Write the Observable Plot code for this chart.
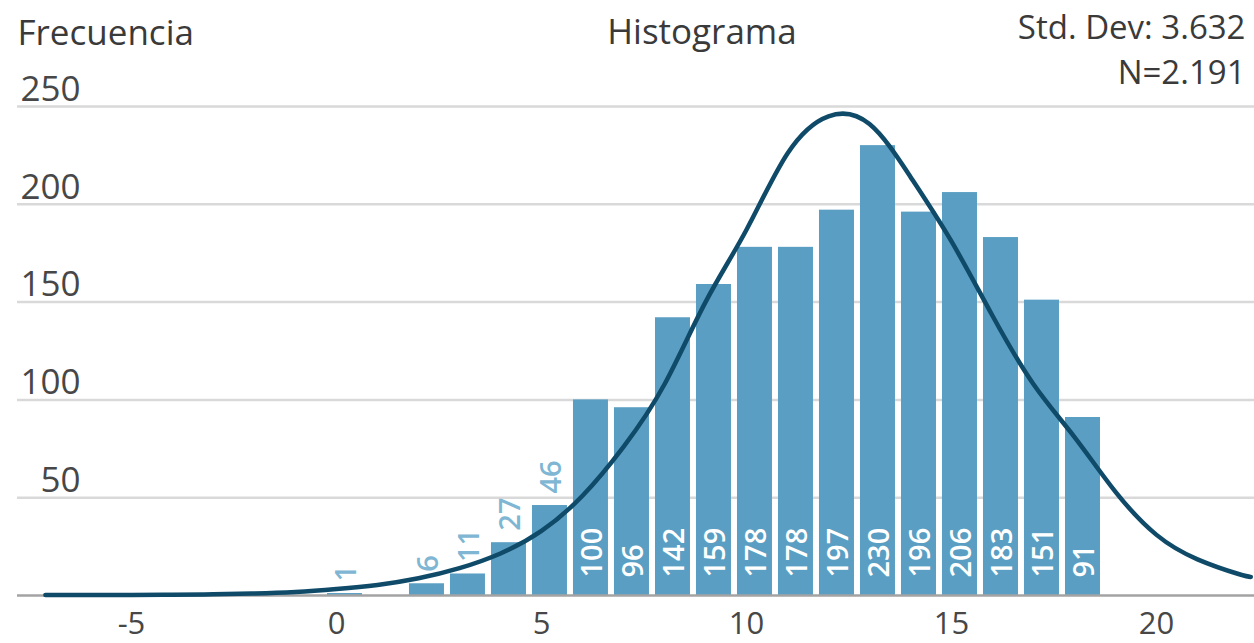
<!DOCTYPE html>
<html>
<head>
<meta charset="utf-8">
<script src="https://cdn.jsdelivr.net/npm/d3@7"></script>
<script src="https://cdn.jsdelivr.net/npm/@observablehq/plot@0.6"></script>
<style>
  body { margin: 0; background: #fff; }
  #chart svg { display: block; }
</style>
</head>
<body>
<div id="chart"></div>
<script>
// Histogram bins (bin start value) and frequencies
const binStarts = [0, 2, 3, 4, 5, 6, 7, 8, 9, 10, 11, 12, 13, 14, 15, 16, 17, 18];
const counts    = [1, 6, 11, 27, 46, 100, 96, 142, 159, 178, 178, 197, 230, 196, 206, 183, 151, 91];

// Fitted curve at whole x values
const curveX = [-7.1, -6, -5, -4, -3, -2, -1, 0, 1, 2, 3, 4, 5, 6, 7, 8, 9, 10, 11, 12, 13, 14, 15, 16, 17, 18, 19, 20, 21, 22, 22.3];
const curveY = [0.2, 0.2, 0.3, 0.4, 0.6, 1.0, 1.8, 3.3, 5.4, 8.8, 14, 21.5, 33, 51, 76, 108, 150, 187, 226, 245, 241, 214, 181, 143, 108, 81, 53, 31, 18.5, 11, 9.5];

// Axis ticks and labels
const yTicks = [50, 100, 150, 200, 250];
const xTicks = [-5, 0, 5, 10, 15, 20];
const xTickLabels = ["-5", "0", "5", "10", "15", "20"];

// Header texts
const yTitle = "Frecuencia";
const chartTitle = "Histograma";
const stdText = "Std. Dev: 3.632";
const nText = "N=2.191";

const bars = binStarts.map((b, i) => ({bin: b, count: counts[i]}));
const curve = curveX.map((x, i) => ({x, y: curveY[i]}));
const xT = xTicks.map((x, i) => ({x, label: xTickLabels[i]}));

const barColor = "#5a9fc3";
const lineColor = "#0f4a69";
const textColor = "#3a3a3a";
const font = "'Open Sans', 'Noto Sans', sans-serif";

const chart = Plot.plot({
  width: 1254,
  height: 643,
  marginLeft: 17,
  marginRight: 0,
  marginTop: 106,
  marginBottom: 48,
  style: {fontFamily: font, background: "#fff"},
  x: {domain: [-7.78, 22.39], axis: null},
  y: {domain: [0, 250], axis: null},
  marks: [
    Plot.ruleY(yTicks, {stroke: "#d9d9d9", strokeWidth: 2.5}),
    Plot.rectY(bars, {x1: d => d.bin - 0.22, x2: d => d.bin + 0.78, y: "count", fill: barColor, insetRight: 6}),
    Plot.ruleY([0], {stroke: "#a3a3a3", strokeWidth: 2.5}),
    // labels inside tall bars
    Plot.text(bars.filter(d => d.count >= 60), {
      x: d => d.bin + 0.28, y: 0, text: d => String(d.count), rotate: -90,
      textAnchor: "start", lineAnchor: "middle", dy: -18, dx: -1,
      fill: "#fff", fontSize: 29, fontWeight: 600
    }),
    // labels above short bars
    Plot.text(bars.filter(d => d.count < 60), {
      x: d => d.bin + 0.28, y: "count", text: d => String(d.count), rotate: -90,
      textAnchor: "start", lineAnchor: "middle", dy: -12, dx: -1,
      fill: "#7fb6d3", fontSize: 29, fontWeight: 600
    }),
    Plot.line(curve, {x: "x", y: "y", curve: "natural", stroke: lineColor, strokeWidth: 4.5}),
    // y tick labels
    Plot.text(yTicks, {
      y: d => d, text: d => String(d), frameAnchor: "left", textAnchor: "end",
      lineAnchor: "middle", dx: 63, dy: -17, fill: "#474747", fontSize: 35
    }),
    // x tick labels
    Plot.text(xT, {
      x: "x", text: "label", frameAnchor: "bottom", lineAnchor: "middle",
      dy: 29, fill: "#474747", fontSize: 31
    }),
    // header texts
    Plot.text([yTitle], {frameAnchor: "top-left", textAnchor: "start", lineAnchor: "middle", dy: -73, fill: textColor, fontSize: 35}),
    Plot.text([chartTitle], {frameAnchor: "top", textAnchor: "middle", lineAnchor: "middle", dx: 66, dy: -74, fill: textColor, fontSize: 35}),
    Plot.text([stdText], {frameAnchor: "top-right", textAnchor: "end", lineAnchor: "middle", dx: -9, dy: -78, fill: textColor, fontSize: 33}),
    Plot.text([nText], {frameAnchor: "top-right", textAnchor: "end", lineAnchor: "middle", dx: -9, dy: -33, fill: textColor, fontSize: 33})
  ]
});
document.getElementById("chart").appendChild(chart);
</script>
</body>
</html>
